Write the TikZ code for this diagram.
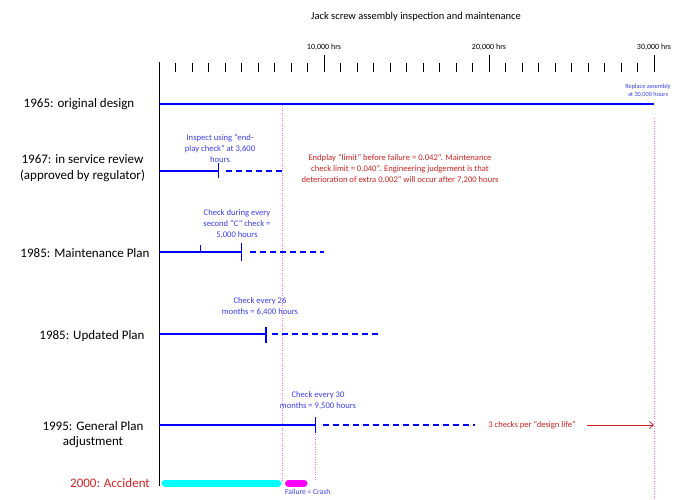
\documentclass[tikz,border=0pt]{standalone}
\usepackage{fontspec}
\setmainfont{Carlito}
\usetikzlibrary{arrows.meta}
\definecolor{planblue}{RGB}{0,0,255}
\definecolor{noteblue}{RGB}{60,60,240}
\definecolor{notered}{RGB}{205,35,35}
\definecolor{guidepink}{RGB}{240,110,240}
\definecolor{barcyan}{RGB}{0,255,255}
\definecolor{barmagenta}{RGB}{255,0,255}
\tikzset{
  yearlabel/.style={font=\fontsize{13}{15.5}\selectfont, align=center, inner sep=0pt},
  note/.style={font=\fontsize{8.6}{11}\selectfont, text=noteblue, align=center, inner sep=0pt},
  rednote/.style={font=\fontsize{8.6}{11}\selectfont, text=notered, align=center, inner sep=0pt},
  scalelabel/.style={font=\fontsize{8}{9}\selectfont, inner sep=0pt},
  plan/.style={draw=planblue, line width=1.1pt},
  future/.style={draw=planblue, line width=1.1pt, dash pattern=on 6pt off 4pt},
  guide/.style={draw=guidepink, line width=0.7pt, dash pattern=on 1pt off 1.5pt},
}
\begin{document}
\begin{tikzpicture}[x=1pt, y=-1pt]
\useasboundingbox (0,0) rectangle (684,499);
% hours -> x position: 0 hrs at 159, 16.5 per 1000 hrs
\def\hx#1{159+16.5*#1}

% title
\node[font=\fontsize{10.5}{12}\selectfont] (title) at (416,17) {Jack screw assembly inspection and maintenance};

% time axis with ticks every 1000 hours
\draw[line width=0.9pt] (159,62) -- (159,486);
\foreach \k in {1,...,30}{
  \pgfmathtruncatemacro{\m}{mod(\k,10)}
  \ifnum\m=0
    \draw[line width=0.8pt] ({\hx{\k}},55) -- ({\hx{\k}},72);
  \else
    \draw[line width=0.65pt] ({\hx{\k}},63) -- ({\hx{\k}},72);
  \fi
}
\node[scalelabel] (t10) at ({\hx{10}},47) {10,000 hrs};
\node[scalelabel] (t20) at ({\hx{20}},47) {20,000 hrs};
\node[scalelabel] (t30) at ({\hx{30}},47) {30,000 hrs};

% guide lines
\draw[guide] ({\hx{7.5}},105) -- ({\hx{7.5}},481);
\draw[guide] ({\hx{30}},118) -- ({\hx{30}},499);
\draw[guide] ({\hx{9.5}},434) -- ({\hx{9.5}},481);

% 1965
\node[yearlabel] (y65) at (79,104) {1965: original design};
\draw[plan] (159,104) -- ({\hx{30}},104);
\node[note, font=\fontsize{6.3}{8}\selectfont] (rep) at (648,91) {Replace assembly\\at 30,000 hours};

% 1967
\node[yearlabel] (y67) at (82.5,168) {1967: in service review\\(approved by regulator)};
\draw[plan] (159,171) -- ({\hx{3.6}},171);
\draw[plan] ({\hx{3.6}},163) -- ({\hx{3.6}},178);
\draw[future] ({\hx{4.05}},171) -- ({\hx{7.5}},171);
\node[note] (n67) at (220,148) {Inspect using “end-\\play check” at 3,600\\hours};
\node[rednote] (r67) at (400,169) {Endplay “limit” before failure = 0.042". Maintenance\\check limit = 0.040". Engineering judgement is that\\deterioration of extra 0.002" will occur after 7,200 hours};

% 1985 maintenance plan
\node[yearlabel] (y85a) at (85,253) {1985: Maintenance Plan};
\draw[plan] (159,252) -- ({\hx{5}},252);
\draw[plan] ({\hx{2.5}},245) -- ({\hx{2.5}},252);
\draw[plan] ({\hx{5}},243) -- ({\hx{5}},261);
\draw[future] ({\hx{5.5}},252) -- ({\hx{10}},252);
\node[note] (n85a) at (237,224.5) {Check during every\\second “C” check =\\5,000 hours};

% 1985 updated plan
\node[yearlabel] (y85b) at (92,336) {1985: Updated Plan};
\draw[plan] (159,334) -- (266,334);
\draw[plan] (266,327) -- (266,343);
\draw[future] (272,334) -- (380,334);
\node[note] (n85b) at (260,306.5) {Check every 26\\months = 6,400 hours};

% 1995
\node[yearlabel] (y95) at (93,434.5) {1995: General Plan\\adjustment};
\draw[plan] (159,425) -- ({\hx{9.5}},425);
\draw[plan] ({\hx{9.5}},417) -- ({\hx{9.5}},433);
\draw[future] ({\hx{9.95}},425) -- (475,425);
\node[note] (n95) at (318,400.5) {Check every 30\\months = 9,500 hours};
\node[rednote] (r95) at (532,425) {3 checks per “design life”};
\coordinate (life) at ({\hx{30}},425);
\draw[notered, line width=0.8pt, -{Straight Barb[length=4pt,width=7pt]}] (587,425) -- (life);

% 2000 accident
\node[yearlabel, text=notered] (y00) at (110,483.5) {2000: Accident};
\draw[barcyan, line width=7pt, line cap=round] (165,483) -- (278,483);
\draw[barmagenta, line width=7pt, line cap=round] (288.5,483) -- (304,483);
\node[note, font=\fontsize{7.6}{9}\selectfont, anchor=west] (fail) at (285,492) {Failure = Crash};
\end{tikzpicture}
\end{document}
